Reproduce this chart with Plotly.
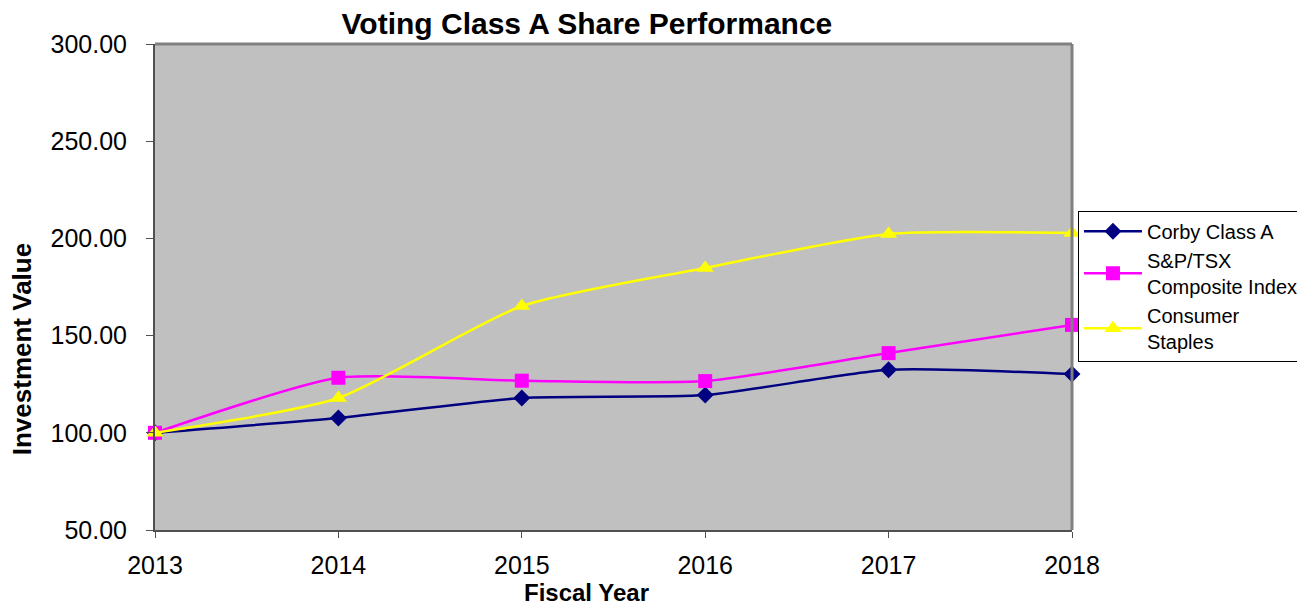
import plotly.graph_objects as go

years = [2013, 2014, 2015, 2016, 2017, 2018]
corby = [100.0, 107.6, 117.9, 119.4, 132.4, 130.2]
sptsx = [100.0, 128.3, 126.8, 126.6, 141.0, 155.5]
staples = [100.0, 117.9, 165.2, 184.8, 202.3, 202.8]
y_ticks = [50, 100, 150, 200, 250, 300]

FONT = "Liberation Sans, Arial, sans-serif"

fig = go.Figure()
fig.add_trace(go.Scatter(x=years, y=corby, name="Corby Class A", mode="lines+markers", legendgroup="a",
                         line=dict(color="#000080", width=2.5, shape="spline", smoothing=0.6),
                         marker=dict(symbol="diamond", size=13, color="#000080"), cliponaxis=False))
fig.add_trace(go.Scatter(x=years, y=sptsx, name="S&P/TSX<br>Composite Index", mode="lines+markers", legendgroup="b",
                         line=dict(color="#FF00FF", width=2.5, shape="spline", smoothing=0.6),
                         marker=dict(symbol="square", size=14, color="#FF00FF"), cliponaxis=False))
fig.add_trace(go.Scatter(x=years, y=staples, name="Consumer<br>Staples", mode="lines+markers", legendgroup="c",
                         line=dict(color="#FFFF00", width=2.5, shape="spline", smoothing=0.6),
                         marker=dict(symbol="triangle-up", size=15, color="#FFFF00"), cliponaxis=False))

# page body has an 8px margin: offset figure so plot area lands where reference has it
fig.update_layout(
    width=1297, height=599,
    margin=dict(l=147, r=233, t=36, b=77, autoexpand=False),
    paper_bgcolor="white", plot_bgcolor="#C0C0C0",
    font=dict(family=FONT, color="black"),
    title=dict(text="<b>Voting Class A Share Performance</b>", x=0.471, xref="paper", xanchor="center",
               y=0.974, yref="container", yanchor="middle", font=dict(size=30, family=FONT, color="black")),
    xaxis=dict(range=[2013, 2018], tickvals=years, ticktext=[str(y) for y in years],
               showgrid=False, zeroline=False, showline=True, linecolor="#505050", linewidth=2,
               ticks="outside", ticklen=6, tickcolor="#505050", tickfont=dict(size=25),
               ticklabelstandoff=6, automargin=False),
    yaxis=dict(range=[50, 300], tickvals=y_ticks, ticktext=[f"{v:.2f}" for v in y_ticks],
               showgrid=False, zeroline=False, showline=True, linecolor="#505050", linewidth=2,
               ticks="outside", ticklen=7, tickcolor="#505050", tickfont=dict(size=25),
               ticklabelstandoff=14, automargin=False),
    legend=dict(x=1.0065, y=0.657, xanchor="left", yanchor="top", bgcolor="white",
                bordercolor="black", borderwidth=1, font=dict(size=20, family=FONT),
                tracegroupgap=0, itemwidth=58),
    showlegend=True,
)
fig.add_shape(type="line", xref="paper", yref="paper", x0=0, x1=1, y0=1, y1=1,
              line=dict(color="#808080", width=3))
fig.add_shape(type="line", xref="paper", yref="paper", x0=1, x1=1, y0=0, y1=1,
              line=dict(color="#808080", width=3))
fig.add_annotation(text="<b>Fiscal Year</b>", xref="paper", yref="paper", x=0.471, y=-0.129,
                   xanchor="center", yanchor="middle", showarrow=False, font=dict(size=24))
fig.add_annotation(text="<b>Investment Value</b>", xref="paper", yref="paper", x=-0.145, y=0.372,
                   xanchor="center", yanchor="middle", textangle=-90, showarrow=False, font=dict(size=26))

fig.write_html("out.html")
